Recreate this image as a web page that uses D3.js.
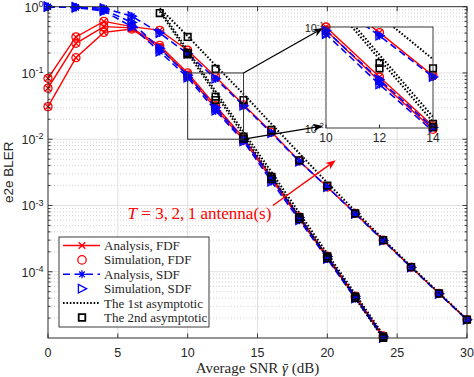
<!DOCTYPE html>
<html>
<head>
<meta charset="utf-8">
<script src="https://cdn.jsdelivr.net/npm/d3@7"></script>
<style>
body { margin: 0; background: #fff; }
svg { display: block; }
</style>
</head>
<body>
<script>
// SNR points (dB)
var snrDb = [0, 2, 4, 6, 8, 10, 12, 14, 16, 18, 20, 22, 24, 26, 28, 30];

// analysis, FDF  (T = 1, 2, 3 antennas)
var fdfT1 = [0.083, 0.35, 0.6, 0.5, 0.44, 0.22, 0.088, 0.033, 0.0128, 0.0047, 0.0019, 7.6e-4, 3.0e-4, 1.17e-4, 4.7e-5, 1.9e-5];
var fdfT2 = [0.059, 0.28, 0.5, 0.48, 0.26, 0.1, 0.032, 0.0105, 0.0027, 6.7e-4, 1.72e-4, 4.3e-5, 1.08e-5];
var fdfT3 = [0.031, 0.17, 0.41, 0.46, 0.24, 0.093, 0.029, 0.0097, 0.0025, 6.3e-4, 1.62e-4, 4.1e-5, 1.02e-5];

// analysis, SDF
var sdfT1 = [1.0, 0.99, 0.95, 0.72, 0.4, 0.195, 0.082, 0.032, 0.0124, 0.0046, 0.0019, 7.5e-4, 2.95e-4, 1.16e-4, 4.65e-5, 1.88e-5];
var sdfT2 = [1.0, 0.98, 0.9, 0.58, 0.235, 0.092, 0.03, 0.0101, 0.0026, 6.6e-4, 1.7e-4, 4.25e-5, 1.06e-5];
var sdfT3 = [1.0, 0.97, 0.86, 0.5, 0.21, 0.085, 0.027, 0.0093, 0.0023, 6.0e-4, 1.56e-4, 3.95e-5, 1.0e-5];

// simulations sit on the analysis curves
var simFdf = [fdfT1, fdfT2, fdfT3];
var simSdf = [sdfT1, sdfT2, sdfT3];

// 1st asymptotic (dotted)
var asym1DbT1 = [8, 10, 12, 14, 16, 18, 20, 22, 24, 26, 28, 30];
var asym1T1 = [0.95, 0.36, 0.13, 0.048, 0.017, 0.0061, 0.0022, 8.2e-4, 3.1e-4, 1.2e-4, 4.8e-5, 1.9e-5];
var asym1DbT23 = [8, 10, 12, 14, 16, 18, 20, 22, 24, 26];
var asym1T2 = [0.92, 0.22, 0.053, 0.0129, 0.0032, 7.7e-4, 1.88e-4, 4.6e-5, 1.12e-5, 2.7e-6];
var asym1T3 = [0.85, 0.2, 0.048, 0.0115, 0.0028, 6.8e-4, 1.65e-4, 4.0e-5, 9.8e-6, 2.4e-6];

// 2nd asymptotic (squares)
var asym2DbT1 = [10, 12, 14, 16, 18, 20, 22, 24, 26, 28, 30];
var asym2T1 = [0.35, 0.115, 0.039, 0.0138, 0.0048, 0.002, 7.6e-4, 3.0e-4, 1.17e-4, 4.7e-5, 1.9e-5];
var asym2DbT2 = [8, 10, 12, 14, 16, 18, 20, 22, 24];
var asym2T2 = [0.8, 0.2, 0.044, 0.011, 0.0027, 6.7e-4, 1.7e-4, 4.2e-5, 1.05e-5];
var asym2DbT3 = [10, 12, 14, 16, 18, 20, 22, 24];
var asym2T3 = [0.19, 0.039, 0.0102, 0.0025, 6.2e-4, 1.6e-4, 4.0e-5, 1.0e-5];

var xTicks = [0, 5, 10, 15, 20, 25, 30];
var yTickExp = [0, -1, -2, -3, -4];
var insetXTicks = [10, 12, 14];

var legendLabels = ["Analysis, FDF", "Simulation, FDF", "Analysis, SDF", "Simulation, SDF", "The 1st asymptotic", "The 2nd asymptotic"];

var W = 474, H = 377;
var axisCol = "#262626";
var sans = "'Liberation Sans', Arial, Helvetica, sans-serif";
var serif = "'Liberation Serif', 'Times New Roman', serif";

var svg = d3.select("body").append("svg")
    .attr("width", W)
    .attr("height", H);

var x = d3.scaleLinear().domain([0, 30]).range([48, 467]);
var y = d3.scaleLog().domain([1e-5, 1]).range([338, 6.7]);

// inset axes (zoom of 10-14 dB)
var xi = d3.scaleLinear().domain([10, 14]).range([326, 433]);
var yi = d3.scaleLog().domain([0.01, 0.1]).range([128, 27]);

function pairs(xs, vs) {
    return vs.map(function (v, i) { return [xs[i], v]; });
}

var defs = svg.append("defs");
defs.append("clipPath").attr("id", "clipMain").append("rect")
    .attr("x", x(0)).attr("y", y(1)).attr("width", x(30) - x(0)).attr("height", y(1e-5) - y(1));
defs.append("clipPath").attr("id", "clipInset").append("rect")
    .attr("x", xi(10)).attr("y", yi(0.1)).attr("width", xi(14) - xi(10)).attr("height", yi(0.01) - yi(0.1));

// ---------- grid ----------
var grid = svg.append("g");
var minorVals = [];
for (var e = -5; e < 0; e++) {
    for (var k = 2; k <= 9; k++) minorVals.push(k * Math.pow(10, e));
}
grid.selectAll(".ymin").data(minorVals).enter().append("line")
    .attr("x1", x(0)).attr("x2", x(30))
    .attr("y1", function (d) { return y(d); }).attr("y2", function (d) { return y(d); })
    .attr("stroke", "#c8c8c8").attr("stroke-width", 0.8).attr("stroke-dasharray", "1,2");
grid.selectAll(".ymaj").data(yTickExp.concat([-5])).enter().append("line")
    .attr("x1", x(0)).attr("x2", x(30))
    .attr("y1", function (d) { return y(Math.pow(10, d)); }).attr("y2", function (d) { return y(Math.pow(10, d)); })
    .attr("stroke", "#dedede").attr("stroke-width", 0.9);
grid.selectAll(".xmaj").data(xTicks).enter().append("line")
    .attr("x1", function (d) { return x(d); }).attr("x2", function (d) { return x(d); })
    .attr("y1", y(1)).attr("y2", y(1e-5))
    .attr("stroke", "#dedede").attr("stroke-width", 0.9);

// ---------- markers ----------
var shapes = {
    x: "M-3.3,-3.3L3.3,3.3M-3.3,3.3L3.3,-3.3",
    star: "M-4,0L4,0M0,-4L0,4M-2.8,-2.8L2.8,2.8M-2.8,2.8L2.8,-2.8",
    tri: "M-3.6,-4.3L4.6,0L-3.6,4.3Z",
    square: "M-3.3,-3.3H3.3V3.3H-3.3Z"
};

function drawMarkers(g, pts, type, color, sx, sy, lo, hi, xlo, xhi) {
    var keep = pts.filter(function (p) {
        return p[0] >= xlo - 0.01 && p[0] <= xhi + 0.01 && p[1] >= lo * 0.93 && p[1] <= hi * 1.02;
    });
    if (type === "circle") {
        g.selectAll(null).data(keep).enter().append("circle")
            .attr("cx", function (p) { return sx(p[0]); })
            .attr("cy", function (p) { return sy(p[1]); })
            .attr("r", 4)
            .attr("fill", "none").attr("stroke", color).attr("stroke-width", 1.3);
    } else {
        g.selectAll(null).data(keep).enter().append("path")
            .attr("d", shapes[type])
            .attr("transform", function (p) { return "translate(" + sx(p[0]) + "," + sy(p[1]) + ")"; })
            .attr("fill", "none").attr("stroke", color)
            .attr("stroke-width", type === "square" ? 1.6 : 1.3);
    }
}

function drawLine(g, pts, color, width, dash, sx, sy, clipId) {
    var line = d3.line()
        .x(function (p) { return sx(p[0]); })
        .y(function (p) { return sy(p[1]); });
    g.append("path")
        .datum(pts)
        .attr("d", line)
        .attr("clip-path", "url(#" + clipId + ")")
        .attr("fill", "none")
        .attr("stroke", color)
        .attr("stroke-width", width)
        .attr("stroke-dasharray", dash);
}

// draws every series with the given scales
function drawAll(g, sx, sy, clipId) {
    var lo = sy.domain()[0], hi = sy.domain()[1];
    var xlo = sx.domain()[0], xhi = sx.domain()[1];
    var fdf = [fdfT1, fdfT2, fdfT3];
    var sdf = [sdfT1, sdfT2, sdfT3];
    var a1 = [pairs(asym1DbT1, asym1T1), pairs(asym1DbT23, asym1T2), pairs(asym1DbT23, asym1T3)];
    var a2 = [pairs(asym2DbT1, asym2T1), pairs(asym2DbT2, asym2T2), pairs(asym2DbT3, asym2T3)];

    for (var t = 0; t < 3; t++) {
        var p = pairs(snrDb, fdf[t]);
        drawLine(g, p, "#ff0000", 1.4, null, sx, sy, clipId);
        drawMarkers(g, p, "x", "#ff0000", sx, sy, lo, hi, xlo, xhi);
        drawMarkers(g, pairs(snrDb, simFdf[t]), "circle", "#ff0000", sx, sy, lo, hi, xlo, xhi);
    }
    for (var t2 = 0; t2 < 3; t2++) {
        var q = pairs(snrDb, sdf[t2]);
        drawLine(g, q, "#0000ff", 1.6, "7,4", sx, sy, clipId);
        drawMarkers(g, q, "star", "#0000ff", sx, sy, lo, hi, xlo, xhi);
        drawMarkers(g, pairs(snrDb, simSdf[t2]), "tri", "#0000ff", sx, sy, lo, hi, xlo, xhi);
    }
    for (var t3 = 0; t3 < 3; t3++) {
        drawLine(g, a1[t3], "#000", 2, "1.6,1.8", sx, sy, clipId);
    }
    for (var t4 = 0; t4 < 3; t4++) {
        drawMarkers(g, a2[t4], "square", "#000", sx, sy, lo, hi, xlo, xhi);
    }
}

drawAll(svg.append("g"), x, y, "clipMain");

// ---------- main axes box & ticks ----------
var ax = svg.append("g").attr("stroke", axisCol).attr("stroke-width", 0.9);
ax.append("rect")
    .attr("x", x(0)).attr("y", y(1)).attr("width", x(30) - x(0)).attr("height", y(1e-5) - y(1))
    .attr("fill", "none");
xTicks.forEach(function (d) {
    ax.append("line").attr("x1", x(d)).attr("x2", x(d)).attr("y1", y(1e-5)).attr("y2", y(1e-5) - 4.5);
    ax.append("line").attr("x1", x(d)).attr("x2", x(d)).attr("y1", y(1)).attr("y2", y(1) + 4.5);
});
yTickExp.forEach(function (d) {
    var v = y(Math.pow(10, d));
    ax.append("line").attr("x1", x(0)).attr("x2", x(0) + 4.5).attr("y1", v).attr("y2", v);
    ax.append("line").attr("x1", x(30)).attr("x2", x(30) - 4.5).attr("y1", v).attr("y2", v);
});
minorVals.forEach(function (d) {
    ax.append("line").attr("x1", x(0)).attr("x2", x(0) + 2.5).attr("y1", y(d)).attr("y2", y(d));
    ax.append("line").attr("x1", x(30)).attr("x2", x(30) - 2.5).attr("y1", y(d)).attr("y2", y(d));
});

svg.selectAll(".xl").data(xTicks).enter().append("text")
    .attr("x", function (d) { return x(d); })
    .attr("y", 357)
    .attr("text-anchor", "middle")
    .attr("font-family", sans).attr("font-size", 12.5).attr("fill", axisCol)
    .text(function (d) { return d; });

function powLabel(g, px, py, ex, fs) {
    var t = g.append("text").attr("x", px).attr("y", py).attr("text-anchor", "end")
        .attr("font-family", sans).attr("font-size", fs).attr("fill", axisCol);
    t.append("tspan").text("10");
    t.append("tspan").attr("dy", -fs * 0.38).attr("font-size", fs * 0.72).text(ex);
}
yTickExp.forEach(function (d) {
    powLabel(svg, 43.5, y(Math.pow(10, d)) + 4.8, String(d), 12.5);
});

// axis titles
var xt = svg.append("text")
    .attr("x", (x(0) + x(30)) / 2).attr("y", 373)
    .attr("text-anchor", "middle")
    .attr("font-family", serif).attr("font-size", 15).attr("fill", axisCol);
xt.append("tspan").text("Average SNR ");
xt.append("tspan").attr("font-style", "italic").text("\u03B3");
xt.append("tspan").text(" (dB)");
// bar over gamma
var gIdx = "Average SNR ".length;
var gBox = xt.node().getExtentOfChar(gIdx);
svg.append("line")
    .attr("x1", gBox.x + 1.8).attr("x2", gBox.x + gBox.width - 0.2)
    .attr("y1", 364.5).attr("y2", 364.5)
    .attr("stroke", axisCol).attr("stroke-width", 0.9);

svg.append("text")
    .attr("transform", "translate(9," + ((y(1) + y(1e-5)) / 2) + ") rotate(-90)")
    .attr("text-anchor", "middle")
    .attr("dominant-baseline", "middle")
    .attr("font-family", sans).attr("font-size", 13.5).attr("fill", axisCol)
    .text("e2e BLER");

// zoom rectangle in main plot
svg.append("rect")
    .attr("x", x(10)).attr("y", y(0.1))
    .attr("width", x(14) - x(10)).attr("height", y(0.01) - y(0.1))
    .attr("fill", "none").attr("stroke", "#333").attr("stroke-width", 1);

// ---------- inset ----------
var inset = svg.append("g");
inset.append("rect")
    .attr("x", xi(10)).attr("y", yi(0.1)).attr("width", xi(14) - xi(10)).attr("height", yi(0.01) - yi(0.1))
    .attr("fill", "#fff");
drawAll(inset.append("g"), xi, yi, "clipInset");
inset.append("rect")
    .attr("x", xi(10)).attr("y", yi(0.1)).attr("width", xi(14) - xi(10)).attr("height", yi(0.01) - yi(0.1))
    .attr("fill", "none").attr("stroke", axisCol).attr("stroke-width", 0.9);
insetXTicks.forEach(function (d) {
    inset.append("line").attr("x1", xi(d)).attr("x2", xi(d)).attr("y1", yi(0.01)).attr("y2", yi(0.01) - 3.5)
        .attr("stroke", axisCol);
    inset.append("text").attr("x", xi(d)).attr("y", 141.5).attr("text-anchor", "middle")
        .attr("font-family", sans).attr("font-size", 12).attr("fill", axisCol).text(d);
});
powLabel(inset, xi(10) - 2, yi(0.1) + 4.5, "-1", 11);
powLabel(inset, xi(10) - 2, yi(0.01) + 4.5, "-2", 11);

// ---------- arrows ----------
function arrow(g, x1, y1, x2, y2, color, w) {
    var ang = Math.atan2(y2 - y1, x2 - x1);
    var L = 10, hw = 4;
    var bx = x2 - L * Math.cos(ang), by = y2 - L * Math.sin(ang);
    var nx = x2 - 0.7 * L * Math.cos(ang), ny = y2 - 0.7 * L * Math.sin(ang);
    g.append("line").attr("x1", x1).attr("y1", y1).attr("x2", nx).attr("y2", ny)
        .attr("stroke", color).attr("stroke-width", w);
    var px = -Math.sin(ang) * hw, py = Math.cos(ang) * hw;
    g.append("path")
        .attr("d", "M" + x2 + "," + y2 + "L" + (bx + px) + "," + (by + py) + "L" + nx + "," + ny +
            "L" + (bx - px) + "," + (by - py) + "Z")
        .attr("fill", color);
}
arrow(svg, x(14), y(0.1), xi(10) - 3, yi(0.1) + 1, "#000", 1.3);
arrow(svg, x(14), y(0.01), xi(10) - 3, yi(0.01) - 2, "#000", 1.3);

// T annotation
var redArrowFrom = [16.1, 1.0e-3], redArrowTo = [20.6, 4.8e-3];
var labelAt = [5.7, 6.25e-4];
arrow(svg, x(redArrowFrom[0]), y(redArrowFrom[1]), x(redArrowTo[0]), y(redArrowTo[1]), "#ff0000", 1.4);

var lab = svg.append("text")
    .attr("x", x(labelAt[0])).attr("y", y(labelAt[1]))
    .attr("font-family", serif).attr("font-size", 16.5).attr("fill", "#ff0000");
lab.append("tspan").attr("font-style", "italic").text("T");
lab.append("tspan").text(" = 3,\u20092,\u20091 antenna(s)");
var lw = lab.node().getComputedTextLength();
if (lw > 0) lab.attr("font-size", 16.5 * 144 / lw);

// ---------- legend ----------
var lg = svg.append("g");
lg.append("rect").attr("x", 59).attr("y", 237).attr("width", 150).attr("height", 90)
    .attr("fill", "#fff").attr("stroke", axisCol).attr("stroke-width", 0.9);
var rowY = d3.scaleLinear().domain([0, 5]).range([245.5, 317.5]);
legendLabels.forEach(function (label, i) {
    var ry = rowY(i);
    if (i === 0) {
        lg.append("line").attr("x1", 63).attr("x2", 100).attr("y1", ry).attr("y2", ry)
            .attr("stroke", "#ff0000").attr("stroke-width", 1.4);
        lg.append("path").attr("d", shapes.x).attr("transform", "translate(82," + ry + ")")
            .attr("fill", "none").attr("stroke", "#ff0000").attr("stroke-width", 1.3);
    } else if (i === 1) {
        lg.append("circle").attr("cx", 82).attr("cy", ry).attr("r", 4.2)
            .attr("fill", "none").attr("stroke", "#ff0000").attr("stroke-width", 1.3);
    } else if (i === 2) {
        lg.append("line").attr("x1", 63).attr("x2", 100).attr("y1", ry).attr("y2", ry)
            .attr("stroke", "#0000ff").attr("stroke-width", 1.6).attr("stroke-dasharray", "7,4.5");
        lg.append("path").attr("d", shapes.star).attr("transform", "translate(82," + ry + ")")
            .attr("fill", "none").attr("stroke", "#0000ff").attr("stroke-width", 1.3);
    } else if (i === 3) {
        lg.append("path").attr("d", shapes.tri).attr("transform", "translate(82," + ry + ")")
            .attr("fill", "none").attr("stroke", "#0000ff").attr("stroke-width", 1.3);
    } else if (i === 4) {
        lg.append("line").attr("x1", 63).attr("x2", 100).attr("y1", ry).attr("y2", ry)
            .attr("stroke", "#000").attr("stroke-width", 2).attr("stroke-dasharray", "1.6,1.8");
    } else {
        lg.append("path").attr("d", shapes.square).attr("transform", "translate(82," + ry + ")")
            .attr("fill", "none").attr("stroke", "#000").attr("stroke-width", 1.8);
    }
    lg.append("text").attr("x", 104).attr("y", ry + 4.5)
        .attr("font-family", serif).attr("font-size", 13).attr("fill", axisCol)
        .text(label);
});
</script>
</body>
</html>
